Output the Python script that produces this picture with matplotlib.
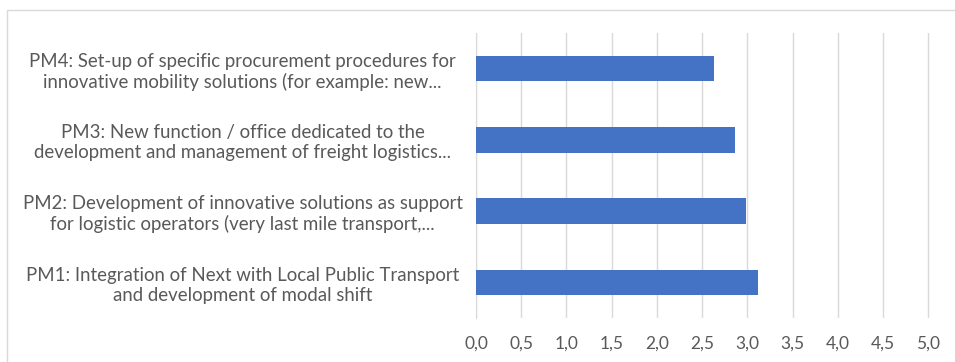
import matplotlib
matplotlib.use("Agg")
import matplotlib.pyplot as plt
from matplotlib.patches import Rectangle
from matplotlib.ticker import FuncFormatter

labels = [
    "PM1: Integration of Next with Local Public Transport\nand development of modal shift",
    "PM2: Development of innovative solutions as support\nfor logistic operators (very last mile transport,...",
    "PM3: New function / office dedicated to the\ndevelopment and management of freight logistics...",
    "PM4: Set-up of specific procurement procedures for\ninnovative mobility solutions (for example: new...",
]
values = [3.12, 2.99, 2.86, 2.63]
xticks = [0, 0.5, 1, 1.5, 2, 2.5, 3, 3.5, 4, 4.5, 5]

text_col = "#595959"
plt.rcParams["font.family"] = ["Lato", "DejaVu Sans"]

fig = plt.figure(figsize=(9.55, 3.62), dpi=100)
ax = fig.add_axes([0.4984, 0.1215, 0.4754, 0.7873])

y = range(len(labels))
ax.barh(y, values, height=0.36, color="#4472C4", zorder=3)

ax.set_xlim(0, 5.02)
ax.set_ylim(-0.5, len(labels) - 0.5)
ax.set_xticks(xticks)
ax.xaxis.set_major_formatter(FuncFormatter(lambda v, p: f"{v:.1f}".replace(".", ",")))
ax.grid(axis="x", color="#D9D9D9", lw=1, zorder=0)
ax.tick_params(axis="x", length=0, pad=13, labelsize=12.5, labelcolor=text_col)

ax.set_yticks(list(y))
ax.set_yticklabels(labels, fontsize=13.4, color=text_col, linespacing=1.22)
for t in ax.get_yticklabels():
    t.set_ha("center")
    t.set_multialignment("center")
ax.tick_params(axis="y", length=0, pad=168)

for s in ["top", "right", "bottom"]:
    ax.spines[s].set_visible(False)
ax.spines["left"].set_color("#D9D9D9")

fig.patches.append(Rectangle((7 / 955, -0.05), 1.0, 1.05 - 10 / 362,
                             transform=fig.transFigure, fill=False,
                             edgecolor="#D9D9D9", lw=1))

fig.savefig("out.png", dpi=100)
